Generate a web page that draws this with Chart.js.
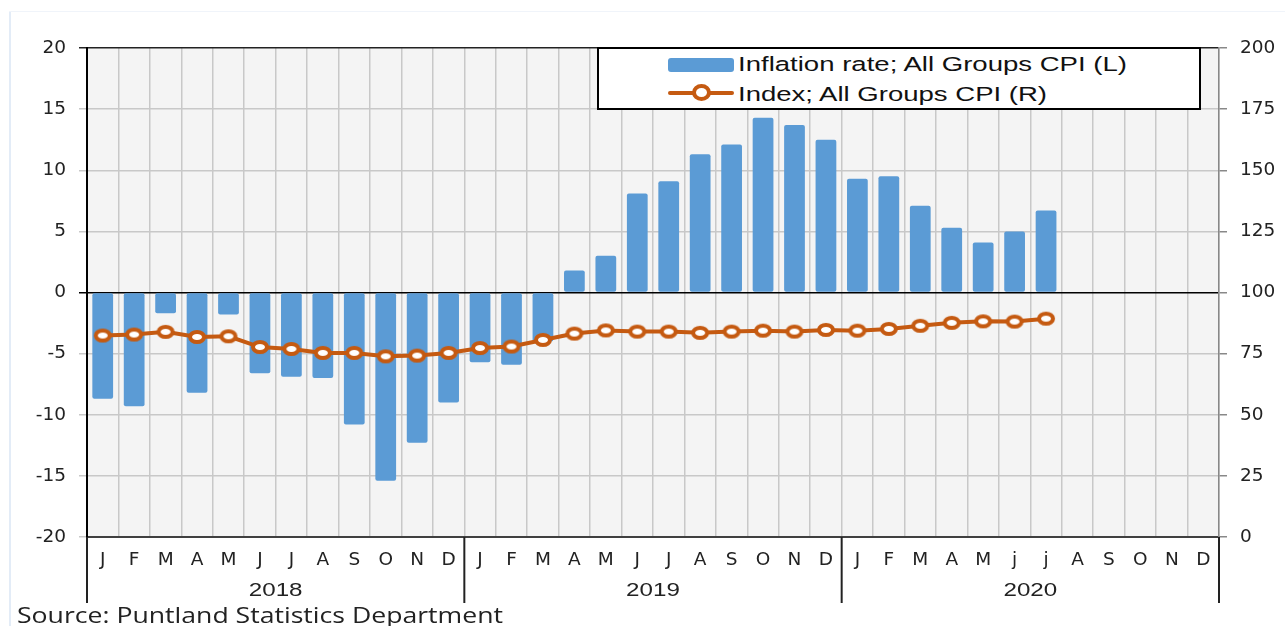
<!DOCTYPE html>
<html><head><meta charset="utf-8">
<script src="https://cdn.jsdelivr.net/npm/chart.js@4"></script>
<style>
html,body{margin:0;padding:0;background:#fff;}
#wrap{position:relative;width:1285px;height:626px;overflow:hidden;background:#fff;}
#c{position:absolute;left:0;top:0;}
.lg{position:absolute;font-family:"Liberation Sans",Arial,sans-serif;font-size:20.5px;color:#111;white-space:nowrap;line-height:24px;height:24px;transform-origin:0 50%;}
#legbox{position:absolute;left:597px;top:47px;width:604px;height:63px;box-sizing:border-box;border:2px solid #000;background:#fff;}
#src{position:absolute;left:17px;top:601px;font-family:"Open Sans","Noto Sans",sans-serif;font-size:21px;color:#222;white-space:nowrap;line-height:28px;transform-origin:0 50%;}
#edgeL{position:absolute;left:9px;top:11px;width:2px;height:615px;background:#e3ecf7;}
#edgeT{position:absolute;left:9px;top:11px;width:1276px;height:1px;background:#f0f4fa;}
</style></head>
<body>
<div id="wrap">
<div id="edgeL"></div><div id="edgeT"></div>
<canvas id="c" width="1285" height="626"></canvas>
<div id="legbox"></div>
<div style="position:absolute;left:668px;top:58px;width:66px;height:14px;background:#5b9bd5;border-radius:3px;"></div>
<div class="lg fit" data-w="389" style="left:738px;top:52px;">Inflation rate; All Groups CPI (L)</div>
<div style="position:absolute;left:668px;top:91px;width:66px;height:4px;background:#c55a11;border-radius:2px;"></div>
<div style="position:absolute;left:692px;top:84px;width:19px;height:17px;box-sizing:border-box;border:4px solid #c55a11;background:#fff;border-radius:50%;"></div>
<div class="lg fit" data-w="309" style="left:738px;top:82px;">Index; All Groups CPI (R)</div>
<div id="src" class="fit" data-w="486">Source: Puntland Statistics Department</div>
</div>
<script>
const months = ['J','F','M','A','M','J','J','A','S','O','N','D',
                'J','F','M','A','M','J','J','A','S','O','N','D',
                'J','F','M','A','M','j','j','A','S','O','N','D'];
const years = ['2018','2019','2020'];
const inflationRate = [-8.7,-9.3,-1.7,-8.2,-1.8,-6.6,-6.9,-7.0,-10.8,-15.4,-12.3,-9.0,
                       -5.7,-5.9,-4.0,1.8,3.0,8.1,9.1,11.3,12.1,14.3,13.7,12.5,
                       9.3,9.5,7.1,5.3,4.1,5.0,6.7,null,null,null,null,null];
const cpiIndex = [82.4,82.8,83.9,81.8,82.1,77.7,76.9,75.3,75.3,73.9,74.2,75.3,
                  77.3,77.9,80.6,83.2,84.5,84.0,84.0,83.5,84.0,84.4,84.0,84.7,
                  84.4,85.1,86.4,87.6,88.2,88.1,89.3,null,null,null,null,null];
const leftTicks = {min:-20,max:20,step:5};
const rightTicks = {min:0,max:200,step:25};

// stretch texts horizontally to the reference widths
document.querySelectorAll('.fit').forEach(el=>{
  const t = +el.dataset.w; const w = el.getBoundingClientRect().width;
  el.style.transform = 'scaleX(' + (t/w).toFixed(4) + ')';
});

// elliptical marker (reference is horizontally stretched)
const marker = document.createElement('canvas');
marker.width = 20; marker.height = 16;
(function(){
  const m = marker.getContext('2d');
  m.beginPath(); m.ellipse(10,8,7,5,0,0,Math.PI*2);
  m.fillStyle='#fff'; m.fill();
  m.lineWidth=4; m.strokeStyle='#c55a11'; m.stroke();
})();

const tickFont = {family:'"DejaVu Sans", sans-serif', size:18.5};
const bgPlugin = {
  id:'bg',
  beforeDraw(chart){
    const {ctx, chartArea:a} = chart;
    ctx.save(); ctx.fillStyle='#f4f4f4';
    ctx.fillRect(a.left,a.top,a.right-a.left,a.bottom-a.top); ctx.restore();
  },
  afterDraw(chart){
    const {ctx, chartArea:a} = chart; const xs = chart.scales.x;
    ctx.save();
    ctx.strokeStyle='#222'; ctx.lineWidth=2;
    const n = months.length;
    for(let g=0; g<=years.length; g++){
      const x = xs.left + (xs.right-xs.left)*(g*12)/n;
      ctx.beginPath(); ctx.moveTo(x,a.bottom); ctx.lineTo(x,603); ctx.stroke();
    }
    ctx.fillStyle='#222'; ctx.font='18.6px "Liberation Sans", Arial, sans-serif';
    ctx.textAlign='center'; ctx.textBaseline='middle';
    years.forEach((y,g)=>{
      const x0 = xs.left + (xs.right-xs.left)*(g*12)/n;
      const x1 = xs.left + (xs.right-xs.left)*((g+1)*12)/n;
      ctx.save(); ctx.translate((x0+x1)/2, 591); ctx.scale(1.3,1);
      ctx.fillText(y,0,0); ctx.restore();
    });
    ctx.restore();
  }
};

new Chart(document.getElementById('c'),{
  data:{
    labels: months,
    datasets:[
      {type:'line', label:'Index; All Groups CPI (R)', data:cpiIndex, yAxisID:'y2', order:0,
       borderColor:'#c55a11', borderWidth:4, pointStyle:marker, pointRadius:8,
       tension:0, spanGaps:false},
      {type:'bar', label:'Inflation rate; All Groups CPI (L)', data:inflationRate, yAxisID:'y', order:1,
       backgroundColor:'#5b9bd5', borderRadius:2, borderSkipped:false,
       categoryPercentage:1, barPercentage:0.66}
    ]
  },
  options:{
    responsive:false, animation:false, devicePixelRatio:1,
    layout:{padding:{top:48,left:0,right:0,bottom:0}},
    plugins:{legend:{display:false}, tooltip:{enabled:false}},
    scales:{
      x:{type:'category', offset:true,
         grid:{offset:true, color:'#c8c8c8', lineWidth:1.5, drawTicks:false},
         border:{color:'#404040', width:2},
         ticks:{font:tickFont, color:'#222', padding:12, autoSkip:false, maxRotation:0},
         afterFit(s){ s.height = 89; }},
      y:{position:'left', min:leftTicks.min, max:leftTicks.max,
         ticks:{stepSize:leftTicks.step, font:tickFont, color:'#222', padding:13},
         grid:{color:c=> c.tick.value===0 ? '#000' : (c.tick.value===20 ? '#222' : '#c8c8c8'),
               lineWidth:1.5, tickLength:8},
         border:{color:'#000', width:2},
         afterFit(s){ s.width = 87; }},
      y2:{position:'right', min:rightTicks.min, max:rightTicks.max,
          ticks:{stepSize:rightTicks.step, font:tickFont, color:'#222', padding:13},
          grid:{drawOnChartArea:false, color:'#888', lineWidth:1.5, tickLength:8},
          border:{color:'#888', width:1.5},
          afterFit(s){ s.width = 66; }}
    }
  },
  plugins:[bgPlugin]
});
</script>
</body></html>
